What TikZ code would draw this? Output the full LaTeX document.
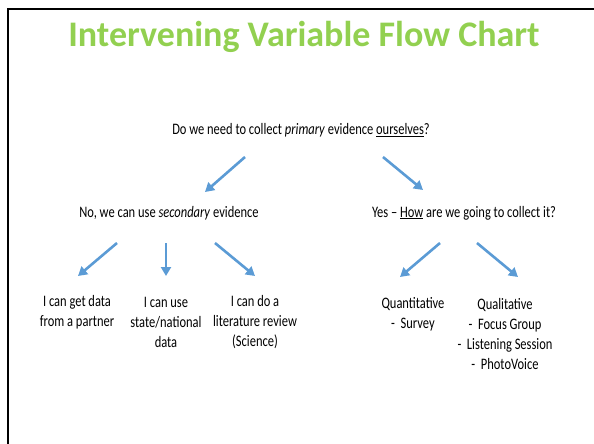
\documentclass[tikz,border=0pt]{standalone}
\usepackage{fontspec}
\setmainfont{Carlito}[FakeStretch=0.78]
\newfontfamily\titlefont{Carlito}
\usetikzlibrary{arrows.meta}
\definecolor{titlegreen}{RGB}{146,208,80}
\definecolor{arrowblue}{RGB}{91,155,213}
\tikzset{
  txt/.style  = {align=center, inner sep=0pt, font=\fontsize{16}{20}\selectfont},
  flow/.style = {->, arrowblue, line width=2.6pt}
}
\tikzset{>={Triangle[length=9pt,width=10pt]}}

\begin{document}
\begin{tikzpicture}[x=1pt,y=-1pt]
  \useasboundingbox (0,0) rectangle (594,444);
  \draw[line width=2.2pt] (8,460) -- (8,9) -- (600,9);
  \node[titlegreen,font=\titlefont\fontsize{36}{40}\selectfont\bfseries] (title) at (304,37) {Intervening Variable Flow Chart};
  \node[txt] (q)   at (301,130) {Do we need to collect \textit{primary} evidence \underline{ourselves}?};
  \node[txt] (no)  at (169,213) {No, we can use \textit{secondary} evidence};
  \node[txt] (yes) at (464,213) {Yes -- \underline{How} are we going to collect it?};
  \node[txt] (partner)   at (77,312)  {I can get data\\from a partner};
  \node[txt] (statedata) at (166,322) {I can use\\state/national\\data};
  \node[txt] (litreview) at (255,322) {I can do a\\literature review\\(Science)};
  \node[txt] (quant) at (413,314) {Quantitative\\-\ \ Survey};
  \node[txt] (qual)  at (505,334) {Qualitative\\-\ \ Focus Group\\-\ \ Listening Session\\-\ \ PhotoVoice};
  \draw[flow] (q) ++(-56,27) -- ++(-40,35);
  \draw[flow] (q) ++(82,27)  -- ++(40,33);
  \draw[flow] (no) ++(-52,30) -- ++(-39,33);
  \draw[flow] (no) ++(-3,30)  -- ++(0,33);
  \draw[flow] (no) ++(46,30)  -- ++(40,33);
  \draw[flow] (yes) ++(-24,30) -- ++(-40,34);
  \draw[flow] (yes) ++(13,30)  -- ++(41,34);
\end{tikzpicture}
\end{document}
